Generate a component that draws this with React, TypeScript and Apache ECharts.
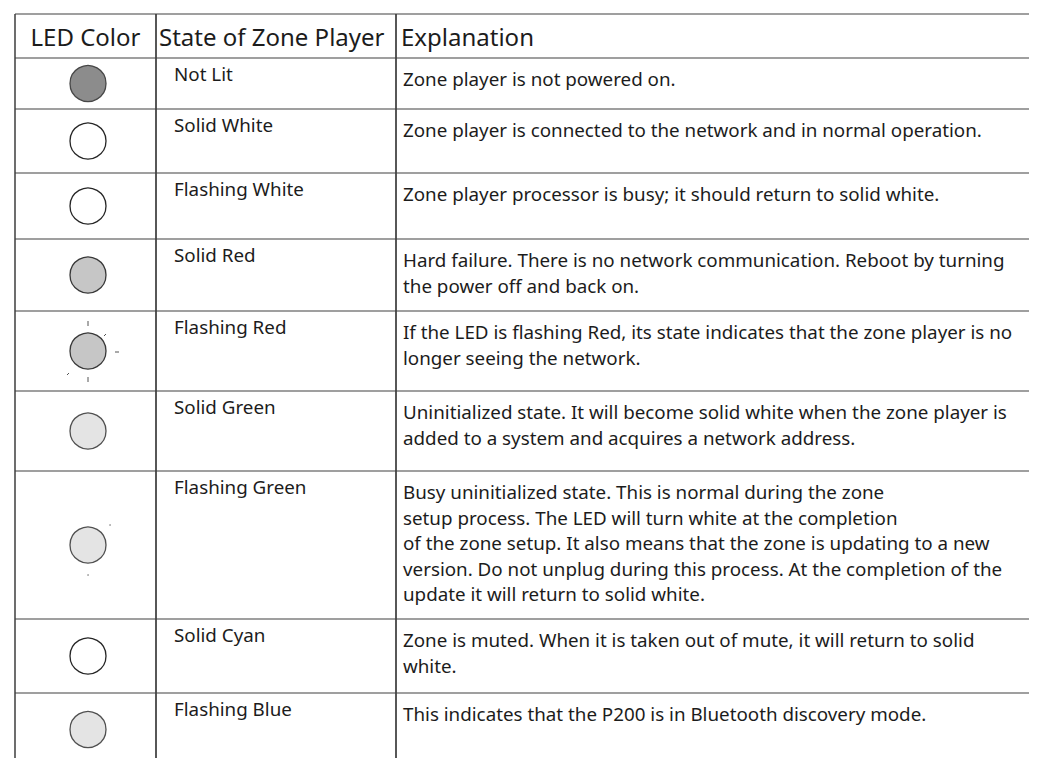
import React, { useEffect, useRef } from "react";
import * as echarts from "echarts";

// ---------- data ----------
const headers = ["LED Color", "State of Zone Player", "Explanation"];

const states = [
  "Not Lit",
  "Solid White",
  "Flashing White",
  "Solid Red",
  "Flashing Red",
  "Solid Green",
  "Flashing Green",
  "Solid Cyan",
  "Flashing Blue",
];

// grey tone of the LED picture (the scan is black & white)
const ledTones = ["dark", "clear", "clear", "grey", "grey", "pale", "pale", "clear", "pale"];
const ledMarks = ["", "", "", "", "rays", "", "specks", "", ""];

const explanations: string[][] = [
  ["Zone player is not powered on."],
  ["Zone player is connected to the network and in normal operation."],
  ["Zone player processor is busy; it should return to solid white."],
  [
    "Hard failure. There is no network communication. Reboot by turning",
    "the power off and back on.",
  ],
  [
    "If the LED is flashing Red, its state indicates that the zone player is no",
    "longer seeing the network.",
  ],
  [
    "Uninitialized state. It will become solid white when the zone player is",
    "added to a system and acquires a network address.",
  ],
  [
    "Busy uninitialized state. This is normal during the zone",
    "setup process. The LED will turn white at the completion",
    "of the zone setup. It also means that the zone is updating to a new",
    "version. Do not unplug during this process. At the completion of the",
    "update it will return to solid white.",
  ],
  [
    "Zone is muted. When it is taken out of mute, it will return to solid",
    "white.",
  ],
  ["This indicates that the P200 is in Bluetooth discovery mode."],
];

// ---------- layout / style ----------
const W = 1037;
const H = 758;
const COL_X = [7, 148, 388, W];
const ROW_Y = [6, 50, 101, 165, 231, 303, 383, 463, 611, 685, H];
const FONT = '"Noto Sans", "Open Sans", sans-serif';
const BODY_FONT = `400 18.8px ${FONT}`;
const HEAD_FONT = `400 24px ${FONT}`;
const TEXT_COLOR = "#1c1c1c";
const H_LINE = "#404040";
const V_LINE = "#1f1f1f";
const LED_R = 18;
const LED_CX = 80;
const LINE_STEP = 25.5;
const STATE_DY = 16;
const EXPL_DY = 21;

const TONE_STYLE: Record<string, { fill: string; stroke: string }> = {
  dark: { fill: "#8c8c8c", stroke: "#474747" },
  clear: { fill: "#ffffff", stroke: "#262626" },
  grey: { fill: "#c6c6c6", stroke: "#383838" },
  pale: { fill: "#e4e4e4", stroke: "#505050" },
};

function textEl(x: number, y: number, text: string, font: string, align: string) {
  return {
    type: "text",
    x,
    y,
    silent: true,
    style: {
      text,
      font,
      fill: TEXT_COLOR,
      align,
      verticalAlign: "middle",
      textAlign: align,
      textVerticalAlign: "middle",
    },
  };
}

function lineEl(x1: number, y1: number, x2: number, y2: number, stroke: string, w: number) {
  return {
    type: "line",
    silent: true,
    shape: { x1, y1, x2, y2 },
    style: { stroke, lineWidth: w },
  };
}

export default function App() {
  const ref = useRef<HTMLDivElement>(null);

  useEffect(() => {
    if (!ref.current) return;
    const chart = echarts.init(ref.current, null, { renderer: "svg" });

    const frameRender = (_params: any, api: any) => {
      const children: any[] = [];
      const [, top] = api.coord([0, ROW_Y[0]]);
      const [, bottom] = api.coord([0, H]);
      for (let c = 0; c < 3; c++) {
        const [x] = api.coord([COL_X[c], 0]);
        children.push(lineEl(x, top, x, bottom, V_LINE, c === 0 ? 1.3 : 1.5));
      }
      const [xl] = api.coord([COL_X[0], 0]);
      const [xr] = api.coord([W, 0]);
      children.push(lineEl(xl, top, xr, top, H_LINE, 1.2));
      const [, hy] = api.coord([0, ROW_Y[1]]);
      children.push(lineEl(xl, hy, xr, hy, H_LINE, 1.2));
      return { type: "group", children };
    };

    const headerRender = (params: any, api: any) => {
      const i = params.dataIndex;
      const cy = (ROW_Y[0] + ROW_Y[1]) / 2;
      let pt;
      let align = "left";
      if (i === 0) {
        pt = api.coord([(COL_X[0] + COL_X[1]) / 2, cy]);
        align = "center";
      } else if (i === 1) {
        pt = api.coord([COL_X[1] + 3, cy]);
      } else {
        pt = api.coord([COL_X[2] + 5, cy]);
      }
      return textEl(pt[0], pt[1], headers[i], HEAD_FONT, align);
    };

    const rowRender = (params: any, api: any) => {
      const i = params.dataIndex;
      const top = ROW_Y[i + 1];
      const bot = ROW_Y[i + 2];
      const children: any[] = [];
      const [xl] = api.coord([COL_X[0], 0]);
      const [xr] = api.coord([W, 0]);
      if (bot < H) {
        const [, by] = api.coord([0, bot]);
        children.push(lineEl(xl, by, xr, by, H_LINE, 1.2));
      }
      // LED picture
      const [cx, cy] = api.coord([LED_CX, (top + bot) / 2]);
      const tone = TONE_STYLE[ledTones[i]];
      children.push({
        type: "circle",
        silent: true,
        shape: { cx, cy, r: LED_R },
        style: { fill: tone.fill, stroke: tone.stroke, lineWidth: 1.3 },
      });
      if (ledMarks[i] === "rays") {
        const rays = [
          [0, -30, 0, -25],
          [27, 1, 31, 1],
          [0, 26, 0, 31],
          [-19, 22, -21, 24],
          [16, -15, 18, -17],
        ];
        rays.forEach((r) =>
          children.push(lineEl(cx + r[0], cy + r[1], cx + r[2], cy + r[3], "#555", 1))
        );
      } else if (ledMarks[i] === "specks") {
        [
          [22, -20],
          [0, 30],
        ].forEach((p) =>
          children.push({
            type: "circle",
            silent: true,
            shape: { cx: cx + p[0], cy: cy + p[1], r: 0.8 },
            style: { fill: "#999" },
          })
        );
      }
      // state text
      const sp = api.coord([166, top + STATE_DY]);
      children.push(textEl(sp[0], sp[1], states[i], BODY_FONT, "left"));
      // explanation lines
      explanations[i].forEach((ln, k) => {
        const p = api.coord([COL_X[2] + 7, top + EXPL_DY + k * LINE_STEP]);
        children.push(textEl(p[0], p[1], ln, BODY_FONT, "left"));
      });
      return { type: "group", children };
    };

    chart.setOption({
      animation: false,
      backgroundColor: "#ffffff",
      grid: { left: 0, right: 0, top: 0, bottom: 0, containLabel: false },
      xAxis: { type: "value", min: 0, max: W, show: false },
      yAxis: { type: "value", min: 0, max: H, inverse: true, show: false },
      tooltip: { show: false },
      series: [
        {
          type: "custom",
          name: "frame",
          coordinateSystem: "cartesian2d",
          clip: false,
          silent: true,
          data: [[0, 0]],
          renderItem: frameRender,
        },
        {
          type: "custom",
          name: "header",
          coordinateSystem: "cartesian2d",
          clip: false,
          silent: true,
          data: headers.map((_, i) => [i, 0]),
          renderItem: headerRender,
        },
        {
          type: "custom",
          name: "rows",
          coordinateSystem: "cartesian2d",
          clip: false,
          silent: true,
          data: states.map((_, i) => [i, 0]),
          renderItem: rowRender,
        },
      ],
    });

    return () => chart.dispose();
  }, []);

  return (
    <div
      ref={ref}
      style={{
        position: "fixed",
        left: 0,
        top: 0,
        width: W,
        height: H,
        background: "#fff",
      }}
    />
  );
}
